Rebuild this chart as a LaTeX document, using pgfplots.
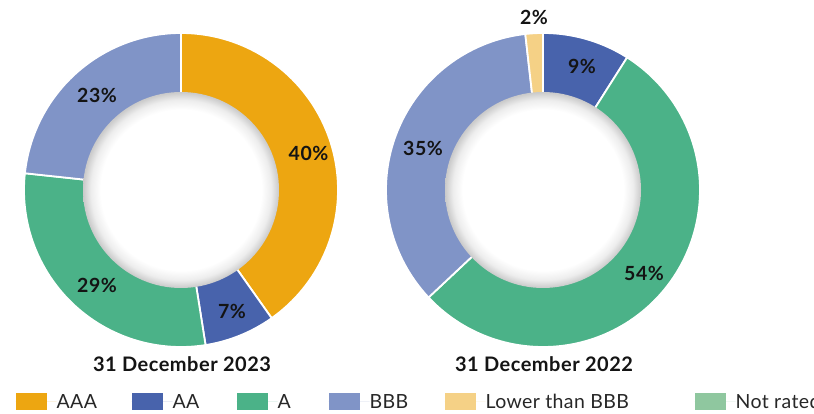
\documentclass[border=0pt]{standalone}
\usepackage{fontspec}
\setmainfont{Lato}
\newfontfamily\widefont[LetterSpace=2.5]{Lato}
\newfontfamily\legfont[LetterSpace=2]{Lato}
\usepackage{pgfplots}
\pgfplotsset{compat=1.18}
\definecolor{cAAA}{HTML}{EDA611}
\definecolor{cAA}{HTML}{4863AC}
\definecolor{cA}{HTML}{4BB288}
\definecolor{cBBB}{HTML}{8094C7}
\definecolor{cLow}{HTML}{F5D186}
\definecolor{cNR}{HTML}{8FC79F}
\definecolor{txt}{HTML}{141414}
\pgfdeclareradialshading{donuthole}{\pgfpointorigin}{rgb(0bp)=(1,1,1); rgb(20.5bp)=(1,1,1); rgb(23bp)=(0.93,0.93,0.93); rgb(25bp)=(0.79,0.79,0.79); rgb(50bp)=(0.79,0.79,0.79)}
% slice: start percent, end percent, colour
\newcommand{\slice}[3]{%
  \pgfmathsetmacro\sa{90-3.6*#2}%
  \pgfmathsetmacro\sb{90-3.6*#1}%
  \addplot[fill=#3, draw=white, line width=1.8bp, line join=round,
    domain=\sa:\sb, samples=120, variable=\t, forget plot]
    ({157*cos(t)},{157*sin(t)}) -- (axis cs:0,0) -- cycle;}
\pgfplotsset{donut/.style={
  width=314bp, height=314bp, scale only axis, hide axis, clip=false,
  xmin=-157, xmax=157, ymin=-157, ymax=157, anchor=center},
  sqlegend/.style={legend image code/.code={\fill[#1] (0bp,-8.5bp) rectangle (31bp,8.5bp); \path (0bp,0bp) -- (41bp,0bp);}}}
\tikzset{pct/.style={font=\widefont\fontsize{19.5bp}{22bp}\selectfont\bfseries, text=txt, inner sep=0pt, text depth=0pt, anchor=center},
  ttl/.style={font=\widefont\fontsize{20bp}{23bp}\selectfont\bfseries, text=txt, inner sep=0pt, anchor=base}}
\begin{document}
\begin{tikzpicture}
\useasboundingbox[fill=white] (0,0) rectangle (814bp,414bp);
% ---------------- 31 December 2023 ----------------
\begin{axis}[donut, at={(181bp,224bp)},
  legend columns=-1, sqlegend,
  legend style={at={(axis cs:-165.4,-211.5)}, anchor=west, draw=none, fill=none,
    inner sep=0pt, outer sep=0pt, column sep=0pt, cells={anchor=west},
    nodes={inner sep=0pt, text depth=0pt},
    font=\legfont\fontsize{19.5bp}{22bp}\selectfont, text=txt!92}]
% AAA 40.2, AA 7.3, A 29.2, BBB 23.3 (cumulative bounds)
\slice{0}{40.2}{cAAA}
\slice{40.2}{47.5}{cAA}
\slice{47.5}{76.7}{cA}
\slice{76.7}{100}{cBBB}
\shade[shading=donuthole] (axis cs:0,0) circle[radius=98bp];
\node[pct] at (axis cs:127.5,36.7) {40\%};
\node[pct] at (axis cs:51,-121) {7\%};
\node[pct] at (axis cs:-84,-95) {29\%};
\node[pct] at (axis cs:-84,95) {23\%};
\node[ttl] at (axis cs:1,-181) {31 December 2023};
\addlegendimage{fill=cAAA, draw=none}\addlegendentry{\makebox[75bp][l]{AAA}}
\addlegendimage{fill=cAA, draw=none}\addlegendentry{\makebox[64bp][l]{AA}}
\addlegendimage{fill=cA, draw=none}\addlegendentry{\makebox[51bp][l]{A}}
\addlegendimage{fill=cBBB, draw=none}\addlegendentry{\makebox[75bp][l]{BBB}}
\addlegendimage{fill=cLow, draw=none}\addlegendentry{\makebox[209bp][l]{Lower than BBB}}
\addlegendimage{fill=cNR, draw=none}\addlegendentry{Not rated}
\end{axis}
% ---------------- 31 December 2022 ----------------
\begin{axis}[donut, at={(543bp,224bp)}]
% AA 9.0, A 54.0, BBB 35.2, Lower than BBB 1.8, Not rated 0
\slice{0}{9.0}{cAA}
\slice{9.0}{63.0}{cA}
\slice{63.0}{98.2}{cBBB}
\slice{98.2}{100}{cLow}
\shade[shading=donuthole] (axis cs:0,0) circle[radius=98bp];
\node[pct] at (axis cs:-9,173) {2\%};
\node[pct] at (axis cs:39,124) {9\%};
\node[pct] at (axis cs:101,-83) {54\%};
\node[pct] at (axis cs:-120,42) {35\%};
\node[ttl] at (axis cs:1,-181) {31 December 2022};
\end{axis}
\end{tikzpicture}
\end{document}
